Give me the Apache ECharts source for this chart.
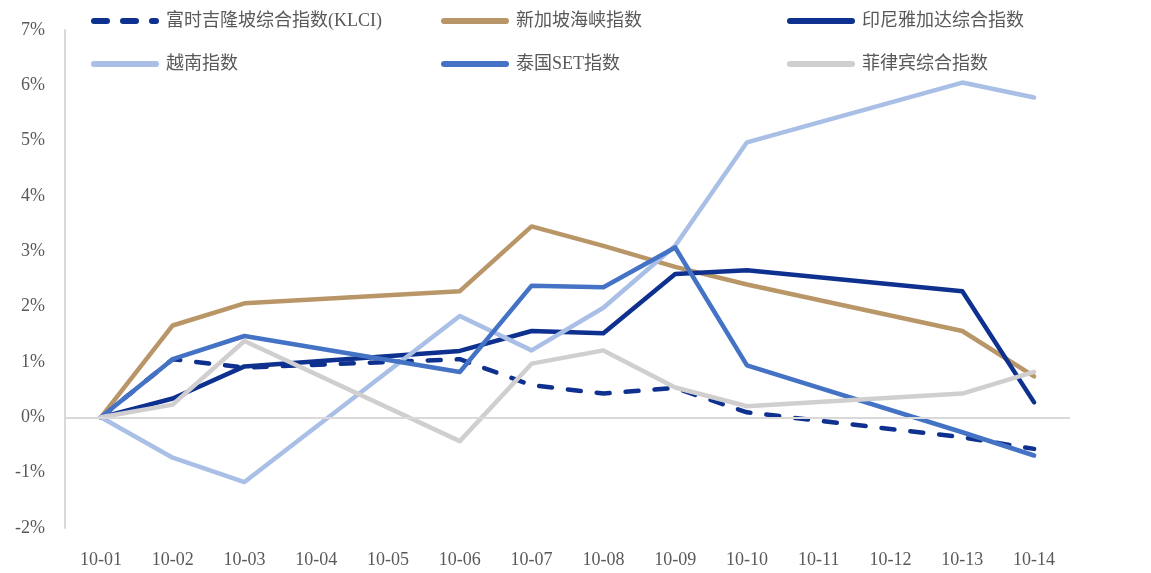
<!DOCTYPE html>
<html>
<head>
<meta charset="utf-8">
<script src="https://cdn.jsdelivr.net/npm/echarts@6/dist/echarts.min.js"></script>
<style>
  html, body { margin: 0; padding: 0; background: #fff; }
  #chart { width: 1151px; height: 573px; }
</style>
</head>
<body>
<div id="chart"></div>
<script>
// 日期（周末/休市日为空值，连线跨过）
const dates = ['10-01', '10-02', '10-03', '10-04', '10-05', '10-06', '10-07',
  '10-08', '10-09', '10-10', '10-11', '10-12', '10-13', '10-14']
const yTicks = [-2, -1, 0, 1, 2, 3, 4, 5, 6, 7]

// 各指数累计涨跌幅 %
const klci = [0, 1.05, 0.9, null, null, 1.05, 0.58, 0.43, 0.53, 0.09, null, null, -0.36, -0.57]
const singapore = [0, 1.66, 2.06, null, null, 2.28, 3.45, 3.1, 2.72, 2.4, null, null, 1.56, 0.74]
const indonesia = [0, 0.34, 0.92, null, null, 1.2, 1.56, 1.52, 2.59, 2.66, null, null, 2.28, 0.27]
const vietnam = [0, -0.73, -1.17, null, null, 1.83, 1.21, 1.98, 3.1, 4.97, null, null, 6.05, 5.78]
const thailand = [0, 1.05, 1.47, null, null, 0.82, 2.38, 2.35, 3.07, 0.94, null, null, -0.27, -0.69]
const philippines = [0, 0.23, 1.38, null, null, -0.43, 0.97, 1.21, 0.54, 0.2, null, null, 0.43, 0.82]

const names = ['富时吉隆坡综合指数(KLCI)', '新加坡海峡指数', '印尼雅加达综合指数',
  '越南指数', '泰国SET指数', '菲律宾综合指数']

const textcolor = '#595959'
const font = '"Liberation Serif", "Noto Sans CJK SC", serif'

function line(name, data, color, dashed) {
  return {
    name: name,
    type: 'line',
    data: data,
    connectNulls: true,
    symbol: 'none',
    lineStyle: {
      color: color,
      width: 4.5,
      type: dashed ? [13, 16] : 'solid',
      cap: 'round',
      join: 'round',
    },
    itemStyle: { color: color },
  }
}

const legendBase = {
  orient: 'vertical',
  top: 7,
  itemWidth: 62,
  itemHeight: 10,
  itemGap: 25,
  itemStyle: { opacity: 0 },
  lineStyle: { width: 6, cap: 'round' },
  textStyle: { color: textcolor, fontSize: 18, fontFamily: font, padding: [0, 0, 0, 5] },
}

let mycharts = echarts.init(document.getElementById('chart'))
let klciSeries = line(names[0], klci, '#0E318F', true)
klciSeries.markLine = {
  silent: true,
  symbol: 'none',
  label: { show: false },
  lineStyle: { color: '#D9D9D9', width: 2, type: 'solid' },
  data: [{ yAxis: 0 }],
}
mycharts.setOption({
  animation: false,
  legend: [
    Object.assign({}, legendBase, { left: 86, data: [names[0], names[3]] }),
    Object.assign({}, legendBase, { left: 436, data: [names[1], names[4]] }),
    Object.assign({}, legendBase, { left: 782, data: [names[2], names[5]] }),
  ],
  grid: { left: 65, right: 81, top: 30, bottom: 45, containLabel: false },
  xAxis: {
    type: 'category',
    data: dates,
    boundaryGap: true,
    axisLine: { show: false },
    axisTick: { show: false },
    axisLabel: { color: textcolor, fontSize: 18, fontFamily: font, margin: 23 },
  },
  yAxis: {
    type: 'value',
    min: yTicks[0],
    max: yTicks[yTicks.length - 1],
    interval: 1,
    axisLine: { show: true, lineStyle: { color: '#D9D9D9', width: 2 } },
    axisTick: { show: false },
    splitLine: { show: false },
    axisLabel: {
      color: textcolor,
      fontSize: 18,
      fontFamily: font,
      margin: 20,
      formatter: (v) => v + '%',
    },
  },
  series: [
    klciSeries,
    line(names[1], singapore, '#B99668'),
    line(names[2], indonesia, '#0E318F'),
    line(names[3], vietnam, '#A9BFE6'),
    line(names[4], thailand, '#4472C4'),
    line(names[5], philippines, '#D0CECE'),
  ],
})
</script>
</body>
</html>
